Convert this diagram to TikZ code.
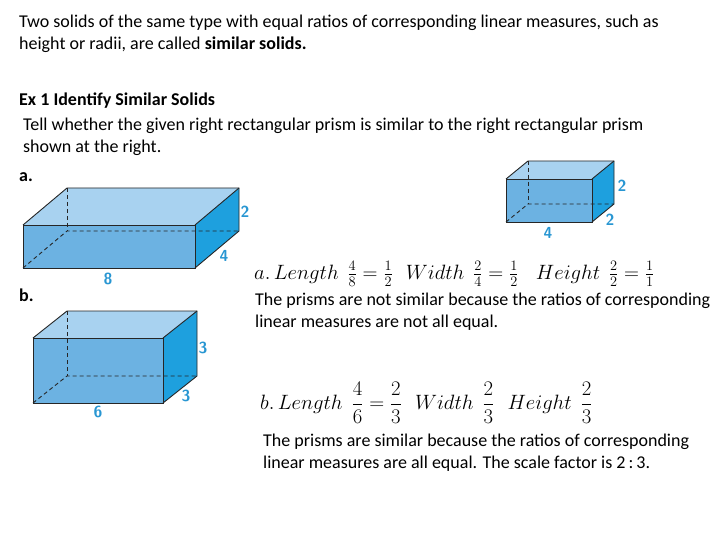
\documentclass[tikz,border=0pt]{standalone}
\usepackage{fontspec}
\setmainfont{Carlito}
\usepackage{amsmath}
\definecolor{front}{RGB}{108,178,226}
\definecolor{topf}{RGB}{168,210,240}
\definecolor{side}{RGB}{30,160,222}
\definecolor{lab}{RGB}{40,150,210}
\begin{document}
\begin{tikzpicture}[x=1pt,y=-1pt,
  txt/.style={anchor=north west,inner sep=0pt,font=\fontsize{18}{21.5}\selectfont,align=left},
  lbl/.style={text=lab,font=\fontsize{16}{17}\selectfont\bfseries\sffamily,inner sep=1pt},
  edge/.style={draw=black!85,line width=0.9pt},
  hid/.style={draw=black!85,line width=0.9pt,dash pattern=on 4pt off 3pt},
  mth/.style={anchor=west,inner sep=0pt,font=\fontsize{19.3}{22}\selectfont}]
\useasboundingbox (0,0) rectangle (720,540);
% text
\node[txt] (t1) at (19,15) {Two solids of the same type with equal ratios of corresponding linear measures, such as\\height or radii, are called \textbf{similar solids.}};
\node[txt] (t2) at (19,93) {\textbf{Ex 1 Identify Similar Solids}};
\node[txt] (t3) at (23,118) {Tell whether the given right rectangular prism is similar to the right rectangular prism\\shown at the right.};
\node[txt] (la) at (19,172) {\textbf{a.}};
\node[txt] (lb) at (19,289) {\textbf{b.}};
\newcommand{\myprism}[6]{%
 \fill[topf] (#1,#2) -- ++(#5,#6) -- (#3+#5,#2+#6) -- (#3,#2) -- cycle;
 \fill[side] (#3,#2) -- (#3+#5,#2+#6) -- (#3+#5,#4+#6) -- (#3,#4) -- cycle;
 \fill[front] (#1,#2) rectangle (#3,#4);
 \draw[hid] (#1,#4) -- (#1+#5,#4+#6) -- (#3+#5,#4+#6);
 \draw[hid] (#1+#5,#2+#6) -- (#1+#5,#4+#6);
 \draw[edge] (#1,#2) rectangle (#3,#4);
 \draw[edge] (#1,#2) -- (#1+#5,#2+#6) -- (#3+#5,#2+#6) -- (#3+#5,#4+#6) -- (#3,#4);
 \draw[edge] (#3,#2) -- (#3+#5,#2+#6);
}
\myprism{23}{225}{195}{268}{44}{-37}
\node[lbl] (a2) at (245,212) {2};
\node[lbl] (a4) at (224,256) {4};
\node[lbl] (a8) at (108,279) {8};
\myprism{33}{338}{163}{403}{34}{-27}
\node[lbl] (b3a) at (203,348) {3};
\node[lbl] (b3b) at (186,396) {3};
\node[lbl] (b6) at (98,412) {6};
\myprism{506}{179}{592}{222}{22}{-18}
\node[lbl] (c2a) at (622,186) {2};
\node[lbl] (c2b) at (610,220) {2};
\node[lbl] (c4) at (548,233) {4};
% ratios
\node[mth] (ra) at (254,274) {$a.\,Length\ \ \tfrac{4}{8}=\tfrac{1}{2}\ \ \ Width\ \ \tfrac{2}{4}=\tfrac{1}{2}\ \ \ \ Height\ \ \tfrac{2}{2}=\tfrac{1}{1}$};
\node[txt] (ta) at (255,293) {The prisms are not similar because the ratios of corresponding\\linear measures are not all equal.};
\node[mth,font=\fontsize{19.5}{21}\selectfont] (rb) at (260,403) {$b.\,Length\ \ \dfrac{4}{6}=\dfrac{2}{3}\ \ \ Width\ \ \dfrac{2}{3}\ \ \ Height\ \ \dfrac{2}{3}$};
\node[txt] (tb) at (263,434) {The prisms are similar because the ratios of corresponding\\linear measures are all equal. The scale factor is 2\,:\,3.};
\end{tikzpicture}
\end{document}
